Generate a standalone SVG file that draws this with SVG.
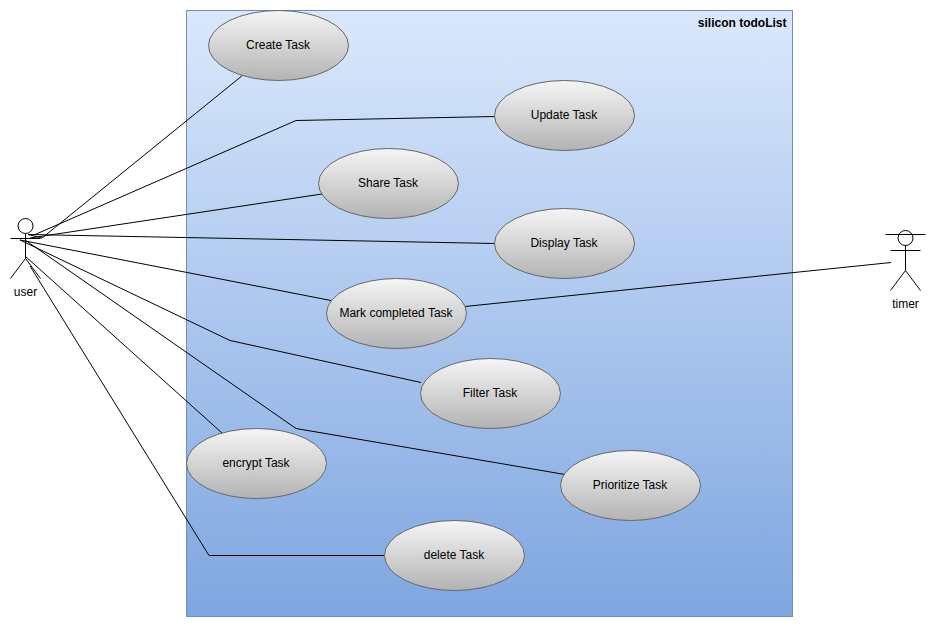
<svg xmlns="http://www.w3.org/2000/svg" width="936" height="627" viewBox="0 0 936 627">
<style>
text{font-family:"Liberation Sans",Arial,sans-serif;font-size:12px;fill:#000;text-anchor:middle}
.uc{fill:url(#g);stroke:#666;stroke-width:1}
.ln{fill:none;stroke:#000;stroke-width:1}
</style>
<defs>
<linearGradient id="b" x1="0" y1="0" x2="0" y2="1"><stop offset="0" stop-color="#dae8fc"/><stop offset="1" stop-color="#7ea6e0"/></linearGradient>
<linearGradient id="g" x1="0" y1="0" x2="0" y2="1"><stop offset="0" stop-color="#f5f5f5"/><stop offset="1" stop-color="#b3b3b3"/></linearGradient>
</defs>
<g id="system">
<rect x="186.500" y="10.500" width="606" height="606" fill="url(#b)" stroke="#6c8ebf"/>
<text x="786.500" y="27" style="text-anchor:end;font-weight:bold">silicon todoList</text>
</g>
<g id="connectors" class="ln">
<path d="M28 234.500L42 238L243 75"/>
<path d="M34 235L296 120.500L495 116.500"/>
<path d="M30 238L322 194"/>
<path d="M28 234.500L495 243.500"/>
<path d="M20 240L331 300.500"/>
<path d="M20 240L230 340.500L421 382.500"/>
<path d="M25 240L296 428.500L565 474.500"/>
<path d="M25 256L222 433"/>
<path d="M30 266L209 555.500L385 555.500"/>
<path d="M465 306.500L891 262.500"/>
</g>
<g id="user" class="ln">
<circle cx="25.500" cy="226" r="7.500" fill="#fff"/>
<path d="M25.500 233.500V258.500M10.500 238.500H40.500M10.500 278.500L25.500 258.500L40.500 278.500"/>
<text x="25.500" y="296" stroke="none">user</text>
</g>
<g id="timer" class="ln">
<circle cx="905.500" cy="238" r="7.500" fill="#fff"/>
<path d="M905.500 245.500V270.500M890.500 250.500H920.500M885.500 234.500H925.500M890.500 290.500L905.500 270.500L920.500 290.500"/>
<text x="905.500" y="308" stroke="none">timer</text>
</g>
<g id="create"><ellipse class="uc" cx="278.500" cy="45.500" rx="70" ry="35"/><text x="278" y="49">Create Task</text></g>
<g id="update"><ellipse class="uc" cx="564.500" cy="115.500" rx="70" ry="35"/><text x="564" y="119">Update Task</text></g>
<g id="share"><ellipse class="uc" cx="388.500" cy="183.500" rx="70" ry="35"/><text x="388" y="187">Share Task</text></g>
<g id="display"><ellipse class="uc" cx="564.500" cy="243.500" rx="70" ry="35"/><text x="564" y="247">Display Task</text></g>
<g id="mark"><ellipse class="uc" cx="396.500" cy="313.500" rx="70" ry="35"/><text x="396" y="317">Mark completed Task</text></g>
<g id="filter"><ellipse class="uc" cx="490.500" cy="393.500" rx="70" ry="35"/><text x="490" y="397">Filter Task</text></g>
<g id="encrypt"><ellipse class="uc" cx="256.500" cy="463.500" rx="70" ry="35"/><text x="256" y="467">encrypt Task</text></g>
<g id="prioritize"><ellipse class="uc" cx="630.500" cy="485.500" rx="70" ry="35"/><text x="630" y="489">Prioritize Task</text></g>
<g id="delete"><ellipse class="uc" cx="454.500" cy="555.500" rx="70" ry="35"/><text x="454" y="559">delete Task</text></g>
</svg>
